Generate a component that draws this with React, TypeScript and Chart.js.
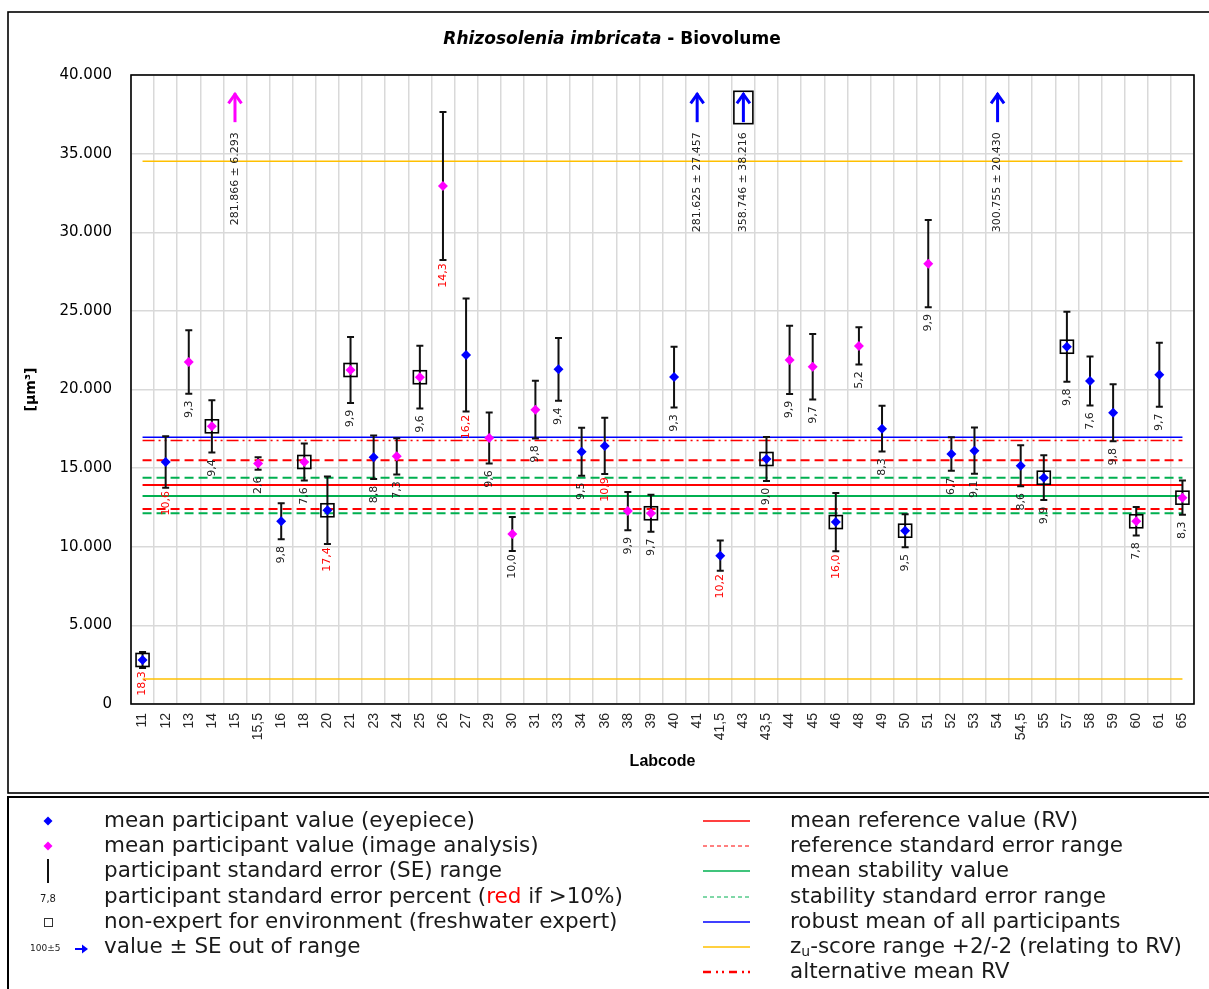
import React, { useEffect, useRef } from 'react';
import { Chart, registerables } from 'chart.js';

Chart.register(...registerables);

// ---------------- data ----------------
const labcodes = [
  '11', '12', '13', '14', '15', '15,5', '16', '18', '20', '21', '23', '24', '25', '26', '27', '29',
  '30', '31', '33', '34', '36', '38', '39', '40', '41', '41,5', '43', '43,5', '44', '45', '46', '48',
  '49', '50', '51', '52', '53', '54', '54,5', '55', '57', '58', '59', '60', '61', '65',
];

// mean participant value (null = out of range, see outOfRangeText)
const meanValues: (number | null)[] = [
  2800, 15390, 21750, 17660, null, 15300, 11620, 15390, 12320, 21240, 15690, 15750, 20780, 32940, 22190, 16920,
  10810, 18720, 21280, 16040, 16410, 12270, 12130, 20790, null, 9430, null, 15580, 21880, 21450, 11570, 22770,
  17510, 11020, 28000, 15900, 16110, null, 15150, 14390, 22720, 20540, 18520, 11620, 20940, 13120,
];

// participant standard error percent
const sePercent: (number | null)[] = [
  18.3, 10.6, 9.3, 9.4, null, 2.6, 9.8, 7.6, 17.4, 9.9, 8.8, 7.3, 9.6, 14.3, 16.2, 9.6,
  10.0, 9.8, 9.4, 9.5, 10.9, 9.9, 9.7, 9.3, null, 10.2, null, 9.0, 9.9, 9.7, 16.0, 5.2,
  8.3, 9.5, 9.9, 6.7, 9.1, null, 8.6, 9.9, 9.8, 7.6, 9.8, 7.8, 9.7, 8.3,
];

// E = eyepiece, I = image analysis
const method = [
  'E', 'E', 'I', 'I', 'I', 'I', 'E', 'I', 'E', 'I', 'E', 'I', 'I', 'I', 'E', 'I',
  'I', 'I', 'E', 'E', 'E', 'I', 'I', 'E', 'E', 'E', 'E', 'E', 'I', 'I', 'E', 'I',
  'E', 'E', 'I', 'E', 'E', 'E', 'E', 'E', 'E', 'E', 'E', 'I', 'E', 'I',
];

// non-expert for environment
const nonExpert = [
  1, 0, 0, 1, 0, 0, 0, 1, 1, 1, 0, 0, 1, 0, 0, 0,
  0, 0, 0, 0, 0, 0, 1, 0, 0, 0, 1, 1, 0, 0, 1, 0,
  0, 1, 0, 0, 0, 0, 0, 1, 1, 0, 0, 1, 0, 1,
];

const outOfRangeText = [
  '', '', '', '', '281.866 ± 6.293', '', '', '', '', '', '', '', '', '', '', '',
  '', '', '', '', '', '', '', '', '281.625 ± 27.457', '', '358.746 ± 38.216', '', '', '', '', '',
  '', '', '', '', '', '300.755 ± 20.430', '', '', '', '', '', '', '', '',
];

const referenceValue = 13930;
const refSeLow = 12400;
const refSeHigh = 15500;
const stabilityValue = 13230;
const stabSeLow = 12130;
const stabSeHigh = 14390;
const robustMean = 16960;
const altReferenceValue = 16750;
const zuLow = 1590;
const zuHigh = 34510;

const yMin = 0;
const yMax = 40000;
const yStep = 5000;
const arrowBase = 37000;
const arrowTip = 38900;

// ---------------- helpers ----------------
const BLUE = '#0000ff';
const MAGENTA = '#ff00ff';
const RED = '#ff0000';
const GREEN = '#00b050';
const ORANGE = '#ffc000';
const GRID = '#d9d9d9';

const fmtThousands = (v: number) => String(v).replace(/\B(?=(\d{3})+(?!\d))/g, '.');

const constLine = (v: number) => labcodes.map(() => v);

function drawDiamond(ctx: CanvasRenderingContext2D, x: number, y: number, r: number, color: string) {
  ctx.save();
  ctx.fillStyle = color;
  ctx.beginPath();
  ctx.moveTo(x, y - r);
  ctx.lineTo(x + r, y);
  ctx.lineTo(x, y + r);
  ctx.lineTo(x - r, y);
  ctx.closePath();
  ctx.fill();
  ctx.restore();
}

function drawUpArrow(ctx: CanvasRenderingContext2D, x: number, yTop: number, yBot: number, color: string) {
  ctx.save();
  ctx.strokeStyle = color;
  ctx.lineWidth = 3;
  ctx.lineCap = 'butt';
  ctx.beginPath();
  ctx.moveTo(x, yBot);
  ctx.lineTo(x, yTop + 1);
  ctx.stroke();
  ctx.beginPath();
  ctx.moveTo(x - 6.5, yTop + 11);
  ctx.lineTo(x, yTop + 2);
  ctx.lineTo(x + 6.5, yTop + 11);
  ctx.stroke();
  ctx.restore();
}

const customPlugin = {
  id: 'customDraw',
  beforeDatasetDraw(chart: any, args: any) {
    const ds = chart.data.datasets[args.index];
    if (ds.label !== 'eyepiece') return;
    const ctx: CanvasRenderingContext2D = chart.ctx;
    const xs = chart.scales.x;
    const ys = chart.scales.y;
    ctx.save();
    labcodes.forEach((_, i) => {
      const v = meanValues[i];
      const p = sePercent[i];
      if (v == null || p == null) return;
      const se = (v * p) / 100;
      const px = xs.getPixelForValue(i);
      const top = ys.getPixelForValue(v + se);
      const bot = ys.getPixelForValue(v - se);
      ctx.strokeStyle = '#111';
      ctx.lineWidth = 2;
      ctx.beginPath();
      ctx.moveTo(px, top);
      ctx.lineTo(px, bot);
      ctx.moveTo(px - 3.5, top);
      ctx.lineTo(px + 3.5, top);
      ctx.moveTo(px - 3.5, bot);
      ctx.lineTo(px + 3.5, bot);
      ctx.stroke();
    });
    // non-expert boxes
    labcodes.forEach((_, i) => {
      if (!nonExpert[i]) return;
      const px = xs.getPixelForValue(i);
      ctx.strokeStyle = '#000';
      ctx.lineWidth = 1.6;
      const v = meanValues[i];
      if (v != null) {
        const py = ys.getPixelForValue(v);
        ctx.strokeRect(px - 6.5, py - 6.5, 13, 13);
      } else {
        const t = ys.getPixelForValue(arrowTip);
        const b = ys.getPixelForValue(arrowBase);
        ctx.strokeRect(px - 9.5, t - 1, 19, b - t + 2.5);
      }
    });
    ctx.restore();
  },
  afterDatasetsDraw(chart: any) {
    const ctx: CanvasRenderingContext2D = chart.ctx;
    const xs = chart.scales.x;
    const ys = chart.scales.y;
    ctx.save();
    // SE percent labels
    ctx.font = '11px "DejaVu Sans"';
    ctx.textAlign = 'center';
    ctx.textBaseline = 'middle';
    labcodes.forEach((_, i) => {
      const v = meanValues[i];
      const p = sePercent[i];
      if (v == null || p == null) return;
      const se = (v * p) / 100;
      const px = xs.getPixelForValue(i);
      const bot = ys.getPixelForValue(v - se);
      ctx.save();
      ctx.translate(px, bot + 15.5);
      ctx.rotate(-Math.PI / 2);
      ctx.fillStyle = p > 10 ? RED : '#222';
      ctx.fillText(p.toFixed(1).replace('.', ','), 0, 0);
      ctx.restore();
    });
    // out-of-range arrows and texts
    labcodes.forEach((_, i) => {
      const txt = outOfRangeText[i];
      if (!txt) return;
      const px = xs.getPixelForValue(i);
      const t = ys.getPixelForValue(arrowTip);
      const b = ys.getPixelForValue(arrowBase);
      drawUpArrow(ctx, px, t, b, method[i] === 'I' ? MAGENTA : BLUE);
      ctx.save();
      ctx.translate(px, b + 10);
      ctx.rotate(-Math.PI / 2);
      ctx.font = '11px "DejaVu Sans"';
      ctx.textAlign = 'right';
      ctx.textBaseline = 'middle';
      ctx.fillStyle = '#222';
      ctx.fillText(txt, 0, 0);
      ctx.restore();
    });
    ctx.restore();
  },
  afterDraw(chart: any) {
    const ctx: CanvasRenderingContext2D = chart.ctx;
    const a = chart.chartArea;
    ctx.save();
    // plot border
    ctx.strokeStyle = '#000';
    ctx.lineWidth = 1.6;
    ctx.strokeRect(a.left, a.top, a.right - a.left, a.bottom - a.top);

    // outer frames
    ctx.lineWidth = 1.6;
    ctx.strokeStyle = '#000';
    ctx.strokeRect(8, 12, 1220, 781);
    ctx.lineWidth = 2;
    ctx.strokeRect(8, 797, 1220, 220);

    // title
    ctx.fillStyle = '#000';
    ctx.textBaseline = 'middle';
    const part1 = 'Rhizosolenia imbricata';
    const part2 = ' - Biovolume';
    ctx.font = 'italic bold 17px "DejaVu Sans"';
    const w1 = ctx.measureText(part1).width;
    ctx.font = 'bold 17px "DejaVu Sans"';
    const w2 = ctx.measureText(part2).width;
    const tx = 612 - (w1 + w2) / 2;
    ctx.textAlign = 'left';
    ctx.font = 'italic bold 17px "DejaVu Sans"';
    ctx.fillText(part1, tx, 40);
    ctx.font = 'bold 17px "DejaVu Sans"';
    ctx.fillText(part2, tx + w1, 40);

    // axis titles
    ctx.font = 'bold 16px "Liberation Sans"';
    ctx.textAlign = 'center';
    ctx.fillText('Labcode', (a.left + a.right) / 2, 762);
    ctx.save();
    ctx.translate(31, (a.top + a.bottom) / 2);
    ctx.rotate(-Math.PI / 2);
    ctx.font = 'bold 14px "DejaVu Sans"';
    ctx.fillText('[µm³]', 0, 0);
    ctx.restore();

    // legend
    const rows = [821, 846, 871, 897, 922, 947, 972];
    const lf = '21.5px "DejaVu Sans"';
    ctx.font = lf;
    ctx.textAlign = 'left';
    ctx.textBaseline = 'middle';
    ctx.fillStyle = '#1a1a1a';
    const tX = 104;
    drawDiamond(ctx, 48, rows[0], 4.5, BLUE);
    ctx.fillStyle = '#1a1a1a';
    ctx.fillText('mean participant value (eyepiece)', tX, rows[0]);
    drawDiamond(ctx, 48, rows[1], 4.5, MAGENTA);
    ctx.fillStyle = '#1a1a1a';
    ctx.fillText('mean participant value (image analysis)', tX, rows[1]);
    ctx.strokeStyle = '#111';
    ctx.lineWidth = 2;
    ctx.beginPath();
    ctx.moveTo(48, rows[2] - 12);
    ctx.lineTo(48, rows[2] + 12);
    ctx.stroke();
    ctx.fillText('participant standard error (SE) range', tX, rows[2]);
    // row 4
    ctx.font = '10px "DejaVu Sans"';
    ctx.textAlign = 'center';
    ctx.fillText('7,8', 48, rows[3] + 2);
    ctx.font = lf;
    ctx.textAlign = 'left';
    let cx = tX;
    const s1 = 'participant standard error percent (';
    ctx.fillText(s1, cx, rows[3]);
    cx += ctx.measureText(s1).width;
    ctx.fillStyle = RED;
    ctx.fillText('red', cx, rows[3]);
    cx += ctx.measureText('red').width;
    ctx.fillStyle = '#1a1a1a';
    ctx.fillText(' if >10%)', cx, rows[3]);
    // row 5
    ctx.lineWidth = 1;
    ctx.strokeStyle = '#333';
    ctx.strokeRect(44.5, rows[4] - 3.5, 8, 8);
    ctx.fillText('non-expert for environment (freshwater expert)', tX, rows[4]);
    // row 6
    ctx.font = '9px "DejaVu Sans"';
    ctx.textAlign = 'left';
    ctx.fillText('100±5', 30, rows[5] + 2);
    ctx.fillStyle = BLUE;
    ctx.strokeStyle = BLUE;
    ctx.lineWidth = 2;
    ctx.beginPath();
    ctx.moveTo(75, rows[5] + 2);
    ctx.lineTo(85, rows[5] + 2);
    ctx.stroke();
    ctx.beginPath();
    ctx.moveTo(82, rows[5] - 2.5);
    ctx.lineTo(88, rows[5] + 2);
    ctx.lineTo(82, rows[5] + 6.5);
    ctx.closePath();
    ctx.fill();
    ctx.fillStyle = '#1a1a1a';
    ctx.font = lf;
    ctx.fillText('value ± SE out of range', tX, rows[5]);

    // right column
    const lx1 = 703;
    const lx2 = 750;
    const rX = 790;
    const lineSym = (y: number, color: string, width: number, dash: number[]) => {
      ctx.save();
      ctx.strokeStyle = color;
      ctx.lineWidth = width;
      ctx.setLineDash(dash);
      ctx.beginPath();
      ctx.moveTo(lx1, y);
      ctx.lineTo(lx2, y);
      ctx.stroke();
      ctx.restore();
    };
    lineSym(rows[0], RED, 1.3, []);
    ctx.fillText('mean reference value (RV)', rX, rows[0]);
    lineSym(rows[1], RED, 1, [4, 3]);
    ctx.fillText('reference standard error range', rX, rows[1]);
    lineSym(rows[2], GREEN, 1.3, []);
    ctx.fillText('mean stability value', rX, rows[2]);
    lineSym(rows[3], GREEN, 1, [4, 3]);
    ctx.fillText('stability standard error range', rX, rows[3]);
    lineSym(rows[4], BLUE, 1.3, []);
    ctx.fillText('robust mean of all participants', rX, rows[4]);
    lineSym(rows[5], ORANGE, 1.3, []);
    cx = rX;
    ctx.fillText('z', cx, rows[5]);
    cx += ctx.measureText('z').width;
    ctx.font = '14px "DejaVu Sans"';
    ctx.fillText('u', cx, rows[5] + 5);
    cx += ctx.measureText('u').width;
    ctx.font = lf;
    ctx.fillText('-score range +2/-2 (relating to RV)', cx, rows[5]);
    lineSym(rows[6], RED, 2.5, [8, 5, 2, 4, 2, 5]);
    ctx.fillText('alternative mean RV', rX, rows[6]);

    ctx.restore();
  },
};

export default function App() {
  const ref = useRef<HTMLCanvasElement | null>(null);

  useEffect(() => {
    if (!ref.current) return;
    const eyepieceData = meanValues.map((v, i) => (method[i] === 'E' ? v : null));
    const imageData = meanValues.map((v, i) => (method[i] === 'I' ? v : null));
    const hline = (label: string, v: number, color: string, width: number, dash: number[], order: number) => ({
      label,
      data: constLine(v),
      borderColor: color,
      backgroundColor: color,
      borderWidth: width,
      borderDash: dash,
      pointRadius: 0,
      fill: false,
      tension: 0,
      order,
    });
    const chart = new Chart(ref.current, {
      type: 'line',
      data: {
        labels: labcodes,
        datasets: [
          {
            label: 'image',
            data: imageData,
            showLine: false,
            pointStyle: 'rectRot',
            pointRadius: 5,
            pointBorderWidth: 0,
            pointBackgroundColor: MAGENTA,
            pointBorderColor: MAGENTA,
            borderColor: MAGENTA,
            backgroundColor: MAGENTA,
            order: 0,
          },
          {
            label: 'eyepiece',
            data: eyepieceData,
            showLine: false,
            pointStyle: 'rectRot',
            pointRadius: 5,
            pointBorderWidth: 0,
            pointBackgroundColor: BLUE,
            pointBorderColor: BLUE,
            borderColor: BLUE,
            backgroundColor: BLUE,
            order: 1,
          },
          hline('robust', robustMean, BLUE, 1.5, [], 2),
          hline('altRV', altReferenceValue, RED, 1.5, [12, 4, 2, 4, 2, 4], 3),
          hline('refHigh', refSeHigh, RED, 2, [9, 5], 4),
          hline('refLow', refSeLow, RED, 2, [9, 5], 5),
          hline('RV', referenceValue, RED, 2, [], 6),
          hline('stabHigh', stabSeHigh, GREEN, 2, [9, 5], 7),
          hline('stabLow', stabSeLow, GREEN, 2, [9, 5], 8),
          hline('stab', stabilityValue, GREEN, 2, [], 9),
          hline('zuHigh', zuHigh, ORANGE, 1.5, [], 10),
          hline('zuLow', zuLow, ORANGE, 1.5, [], 11),
        ],
      },
      options: {
        responsive: false,
        animation: false,
        devicePixelRatio: 1,
        events: [],
        layout: { padding: { left: 0, top: 75, right: 15, bottom: 195 } },
        plugins: {
          legend: { display: false },
          tooltip: { enabled: false },
          title: { display: false },
        },
        scales: {
          x: {
            type: 'category',
            offset: true,
            grid: { offset: true, color: GRID, lineWidth: 1.5, drawTicks: false },
            border: { display: false },
            ticks: {
              autoSkip: false,
              maxRotation: 90,
              minRotation: 90,
              padding: 9,
              color: '#262626',
              font: { family: '"Liberation Sans"', size: 14 },
            },
            afterFit: (s: any) => {
              s.height = 90;
            },
          },
          y: {
            min: yMin,
            max: yMax,
            grid: { color: GRID, lineWidth: 1.5, drawTicks: false },
            border: { display: false },
            ticks: {
              stepSize: yStep,
              padding: 19,
              color: '#000',
              font: { family: '"DejaVu Sans"', size: 15 },
              callback: (v: any) => fmtThousands(Number(v)),
            },
            afterFit: (s: any) => {
              s.width = 131;
            },
          },
        },
      },
      plugins: [customPlugin],
    } as any);
    return () => chart.destroy();
  }, []);

  return (
    <div style={{ position: 'absolute', left: 0, top: 0, width: 1209, height: 989, background: '#fff' }}>
      <canvas ref={ref} width={1209} height={989} style={{ display: 'block', width: 1209, height: 989 }} />
    </div>
  );
}
